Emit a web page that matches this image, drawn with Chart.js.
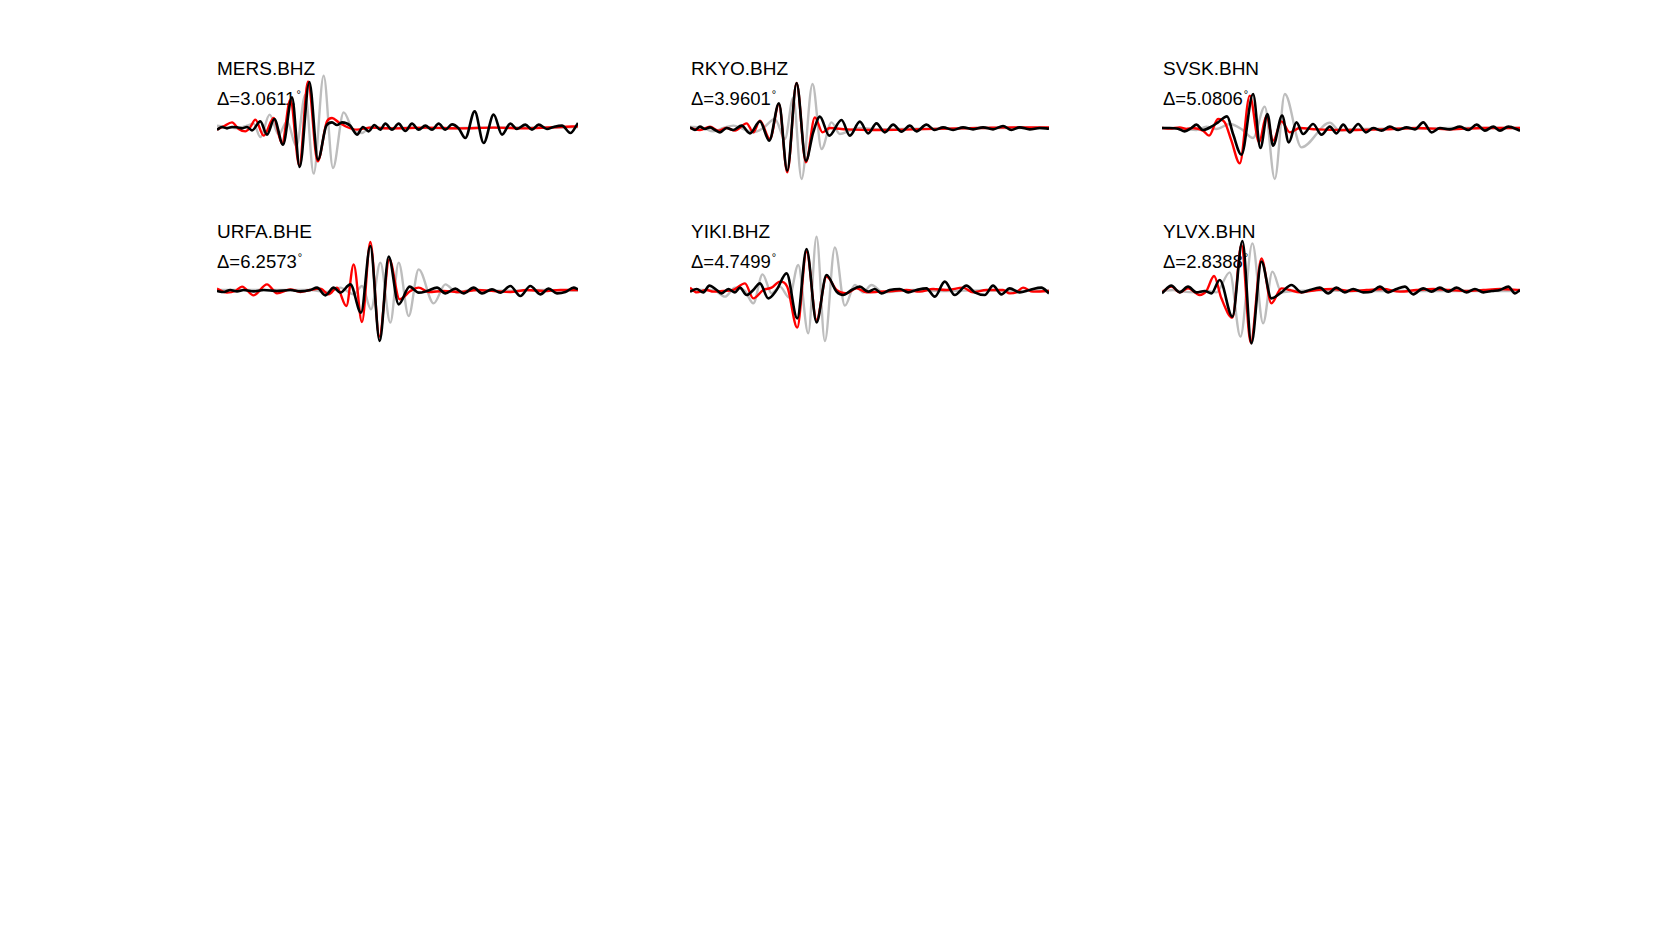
<!DOCTYPE html>
<html>
<head>
<meta charset="utf-8">
<script src="https://cdn.jsdelivr.net/npm/chart.js@4/dist/chart.umd.min.js"></script>
<style>
  html, body { margin:0; padding:0; background:#fff; }
  body { width:1680px; height:935px; position:relative; overflow:hidden; font-family:"Liberation Sans", Arial, Helvetica, sans-serif; }
  .name, .dist { position:absolute; color:#000; white-space:nowrap; line-height:19px; }
  .name { font-size:19px; }
  .dist { font-size:18.5px; }
  .dist sup { font-size:11px; position:relative; top:-4px; vertical-align:top; margin-left:1px; }
  canvas { position:absolute; }
</style>
</head>
<body>
<script>
// ---- Data (time in samples from window start, normalised amplitude) ----
const stations  = ['MERS.BHZ','RKYO.BHZ','SVSK.BHN','URFA.BHE','YIKI.BHZ','YLVX.BHN'];
const distances = ['3.0611','3.9601','5.0806','6.2573','4.7499','2.8388'];

const mersBlack = [[0,-5],[15,3],[30,-1],[45,3],[60,2],[75,-1],[90,3],[105,-7],[130,20],[150,-20],[172,27],[198,-50],[225,92],[248,-117],[277,138],[303,-95],[328,7],[345,17],[360,9],[375,17],[400,7],[420,-20],[438,3],[455,-10],[472,9],[490,-5],[505,13],[525,-5],[545,13],[565,-9],[585,13],[605,-5],[625,7],[645,-5],[665,13],[685,-5],[705,11],[725,-1],[745,-30],[773,50],[800,-45],[830,40],[855,-20],[880,13],[900,-3],[925,10],[945,-5],[965,10],[990,-3],[1010,3],[1035,7],[1060,-15],[1083,15]];
const mersRed   = [[0,-5],[20,5],[45,17],[65,-3],[85,-10],[100,3],[115,25],[140,-23],[170,30],[195,-47],[220,85],[247,-113],[273,140],[302,-100],[330,20],[345,30],[365,17],[390,3],[420,-5],[460,1],[530,-1],[630,1],[730,-1],[830,1],[930,-1],[1030,3],[1083,5]];
const mersGray  = [[0,7],[30,3],[60,-1],[90,7],[110,13],[130,-27],[158,40],[185,-20],[210,20],[238,-55],[265,100],[290,-137],[320,157],[348,-120],[380,47],[410,-10],[435,-15],[460,3],[500,-1],[580,1],[680,-1],[780,1],[880,2],[980,1],[1083,3]];

const rkyoBlack = [[0,2],[15,-6],[30,4],[45,-3],[60,2],[75,-6],[90,-13],[110,0],[130,-6],[155,7],[180,-16],[210,20],[238,-38],[267,74],[292,-128],[320,135],[348,-98],[370,-13],[390,34],[418,-23],[455,24],[480,-23],[510,19],[535,-16],[560,14],[585,-13],[610,10],[635,-11],[660,7],[680,-10],[710,10],[735,-6],[760,2],[790,-6],[820,2],[850,-4],[880,2],[910,-4],[940,6],[965,-6],[990,2],[1020,-4],[1050,0],[1078,-2]];
const rkyoRed   = [[0,0],[30,-6],[60,4],[85,-8],[110,0],[135,-8],[170,14],[190,-13],[210,22],[240,-33],[267,72],[292,-133],[320,135],[348,-103],[375,32],[398,-13],[420,0],[470,-4],[570,-6],[670,-4],[770,-2],[870,0],[970,2],[1078,2]];
const rkyoGray  = [[0,4],[40,0],[70,-10],[100,0],[130,7],[160,-3],[190,-13],[220,0],[255,27],[285,-33],[310,92],[335,-153],[368,132],[395,-63],[425,17],[450,-18],[480,-8],[510,0],[570,-4],[670,-2],[770,-2],[870,0],[970,0],[1078,0]];

const svskBlack = [[0,0],[23,0],[48,-2],[68,-10],[88,0],[103,10],[123,-6],[148,4],[168,17],[195,35],[213,-18],[238,-80],[273,102],[295,-60],[316,42],[333,-53],[360,37],[380,-43],[403,17],[423,-18],[453,12],[478,-20],[503,4],[523,-16],[543,10],[563,-13],[588,12],[611,-13],[633,0],[658,-8],[683,4],[708,-6],[733,2],[758,-4],[783,17],[808,-13],[833,0],[863,-4],[893,4],[918,-6],[943,10],[968,-8],[993,4],[1013,-8],[1038,4],[1073,-8]];
const svskRed   = [[0,0],[23,-2],[53,2],[73,-3],[93,0],[123,-8],[141,-23],[168,27],[188,17],[208,-38],[233,-106],[263,97],[291,-43],[313,37],[333,-38],[358,20],[383,-13],[413,0],[463,-4],[563,-6],[663,-4],[763,0],[863,-4],[963,0],[1073,0]];
const svskGray  = [[0,0],[63,-2],[103,-6],[133,4],[163,-3],[203,12],[238,-3],[273,-30],[308,64],[338,-153],[368,102],[418,-58],[503,16],[533,-8],[563,-4],[663,-2],[763,-2],[863,0],[963,0],[1073,0]];

const urfaBlack = [[0,-3],[20,-6],[40,0],[60,-4],[80,0],[110,-4],[140,0],[180,-3],[220,0],[250,-4],[280,0],[300,7],[325,-16],[350,7],[370,-8],[400,17],[432,-68],[460,132],[488,-153],[515,100],[545,-43],[578,10],[605,-8],[630,-3],[660,7],[685,-10],[715,4],[740,-10],[770,7],[795,-10],[825,2],[850,-8],[880,12],[910,-18],[940,12],[970,-13],[995,4],[1020,-10],[1045,-6],[1070,7],[1083,2]];
const urfaRed   = [[0,4],[30,-8],[55,-3],[75,10],[110,-16],[150,17],[180,-10],[220,2],[250,-6],[280,0],[310,4],[335,-13],[360,7],[388,-48],[410,77],[435,-96],[460,144],[487,-140],[517,92],[548,-28],[580,-3],[605,7],[635,-6],[680,-3],[730,-6],[780,0],[830,-3],[880,-6],[930,0],[980,-3],[1030,0],[1083,0]];
const urfaGray  = [[0,0],[80,0],[180,0],[280,0],[330,-6],[370,7],[410,-13],[435,12],[462,-58],[490,82],[520,-98],[545,82],[575,-78],[605,62],[650,-40],[685,17],[720,-8],[760,0],[880,-2],[980,0],[1083,-2]];

const yikiBlack = [[0,-2],[20,6],[40,-4],[58,16],[80,3],[95,-7],[115,6],[135,-4],[150,10],[170,-12],[190,3],[210,23],[235,-22],[260,3],[290,53],[322,-82],[350,126],[380,-94],[410,48],[440,-2],[460,-12],[485,3],[510,13],[535,-2],[555,6],[575,-7],[600,3],[630,6],[655,-4],[680,3],[710,8],[735,-17],[765,28],[795,-12],[830,16],[855,-4],[885,-12],[910,16],[935,-10],[960,8],[990,-4],[1020,3],[1055,10],[1078,-7]];
const yikiRed   = [[0,10],[20,-4],[50,3],[70,-2],[100,0],[130,3],[165,23],[190,-22],[220,3],[245,10],[270,28],[292,13],[322,-110],[350,118],[380,-87],[410,43],[440,3],[470,-7],[500,8],[530,-4],[570,-2],[610,0],[650,3],[690,-2],[730,6],[770,3],[820,10],[850,-4],[890,3],[940,3],[960,-7],[980,-4],[1000,10],[1030,-2],[1078,0]];
const yikiGray  = [[0,6],[30,3],[70,3],[105,-17],[135,10],[165,0],[190,-37],[218,50],[245,-7],[270,13],[298,-20],[325,78],[355,-127],[380,163],[405,-150],[435,131],[465,-44],[495,18],[520,-4],[545,18],[580,-4],[670,3],[770,0],[870,2],[970,0],[1078,2]];

const ylvxBlack = [[0,-7],[28,16],[53,-4],[78,13],[103,-4],[128,0],[148,-7],[173,33],[211,-77],[241,150],[268,-157],[298,88],[328,-22],[358,-4],[388,18],[418,-4],[443,3],[473,10],[498,-7],[523,10],[548,-4],[573,6],[603,-4],[628,-2],[653,13],[678,-4],[703,6],[728,13],[753,-10],[783,8],[808,-2],[833,10],[858,-2],[883,10],[913,-4],[938,6],[963,-4],[988,0],[1013,3],[1038,13],[1058,-7],[1073,3]];
const ylvxRed   = [[0,-4],[28,13],[53,-4],[78,8],[113,-12],[133,0],[156,45],[178,-22],[211,-80],[238,138],[266,-155],[298,98],[328,-37],[358,8],[383,3],[413,-4],[463,3],[513,6],[563,0],[613,3],[663,6],[713,-2],[763,3],[813,6],[863,3],[913,0],[963,3],[1013,6],[1073,3]];
const ylvxGray  = [[0,0],[33,3],[63,-2],[103,-4],[133,0],[163,-4],[203,56],[235,-137],[271,143],[303,-97],[331,58],[358,-4],[393,0],[463,2],[563,0],[663,0],[763,0],[1073,0]];

const blackSeries = [mersBlack, rkyoBlack, svskBlack, urfaBlack, yikiBlack, ylvxBlack];
const redSeries   = [mersRed, rkyoRed, svskRed, urfaRed, yikiRed, ylvxRed];
const graySeries  = [mersGray, rkyoGray, svskGray, urfaGray, yikiGray, ylvxGray];

// ---- Layout (pixels) ----
const panelLeft  = [217, 690, 1162, 217, 690, 1162];
const panelBase  = [128, 128, 128, 290, 291, 291];
const labelLeft  = [217, 691, 1163, 217, 691, 1163];
const nameTop    = [59, 59, 59, 222, 222, 222];
const distTop    = [89, 89, 89, 252, 252, 252];
const UNITS_PER_PX = 3;
const CANVAS_H = 140;

const pts = arr => arr.map(([t, a]) => ({ x: t, y: a }));

stations.forEach((name, i) => {
  const n = document.createElement('div');
  n.className = 'name';
  n.style.left = labelLeft[i] + 'px';
  n.style.top = nameTop[i] + 'px';
  n.textContent = name;
  document.body.appendChild(n);

  const d = document.createElement('div');
  d.className = 'dist';
  d.style.left = labelLeft[i] + 'px';
  d.style.top = distTop[i] + 'px';
  d.innerHTML = '\u0394=' + distances[i] + '<sup>\u00B0</sup>';
  document.body.appendChild(d);
});

stations.forEach((name, i) => {
  const tMax = blackSeries[i][blackSeries[i].length - 1][0];
  const w = Math.round(tMax / UNITS_PER_PX);
  const c = document.createElement('canvas');
  c.width = w; c.height = CANVAS_H;
  c.style.left = panelLeft[i] + 'px';
  c.style.top = (panelBase[i] - CANVAS_H / 2) + 'px';
  c.style.width = w + 'px'; c.style.height = CANVAS_H + 'px';
  document.body.appendChild(c);
  const half = CANVAS_H / 2 * UNITS_PER_PX;
  new Chart(c.getContext('2d'), {
    type: 'line',
    data: {
      datasets: [
        { label: 'observed', data: pts(blackSeries[i]), borderColor: '#000000', borderWidth: 2.6, clip: false },
        { label: 'synthetic', data: pts(redSeries[i]), borderColor: '#ff0000', borderWidth: 2.4, clip: false },
        { label: 'reference', data: pts(graySeries[i]), borderColor: '#bdbdbd', borderWidth: 2.4, clip: false }
      ]
    },
    options: {
      responsive: false,
      animation: false,
      devicePixelRatio: 1,
      layout: { padding: 0 },
      elements: { point: { radius: 0 }, line: { cubicInterpolationMode: 'monotone', fill: false } },
      scales: {
        x: { type: 'linear', display: false, min: 0, max: tMax },
        y: { type: 'linear', display: false, min: -half, max: half }
      },
      plugins: { legend: { display: false }, tooltip: { enabled: false }, title: { display: false } }
    }
  });
});
</script>
</body>
</html>
